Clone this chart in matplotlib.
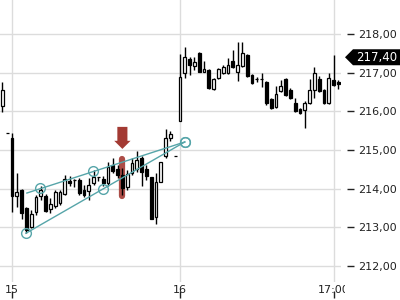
import matplotlib
matplotlib.use("Agg")
import matplotlib.pyplot as plt
import matplotlib.transforms as mtransforms
from matplotlib.patches import Polygon

# OHLC, one candle per index
opens = [216.14, 215.44, 215.31, 213.81, 213.97, 213.50, 213.01, 213.40, 213.81, 213.81,
         213.47, 213.55, 213.63, 213.86, 214.20, 214.22, 214.22, 213.97, 213.94, 214.15,
         214.30, 214.25, 214.15, 214.61, 214.51, 214.35, 214.04, 214.41, 214.51, 214.79,
         214.51, 214.30, 213.27, 214.17, 214.85, 215.31, 214.85, 215.75, 216.99, 217.35,
         217.17, 217.51, 217.02, 217.07, 216.58, 216.86, 216.99, 216.99, 217.30, 217.02,
         217.17, 217.46, 216.94, 216.84, 216.84, 216.76, 216.32, 216.11, 216.53, 216.84,
         216.55, 216.22, 216.06, 216.03, 216.22, 216.55, 216.84, 216.55, 216.22, 216.81,
         216.76]
highs = [216.76, 215.44, 215.44, 214.41, 214.00, 213.52, 213.45, 213.84, 214.07, 213.86,
         213.76, 213.97, 213.97, 214.35, 214.33, 214.24, 214.28, 214.10, 214.28, 214.48,
         214.31, 214.33, 214.69, 214.79, 214.61, 214.53, 214.48, 214.79, 214.97, 214.85,
         214.61, 214.30, 214.41, 214.69, 215.54, 215.49, 214.85, 217.48, 217.66, 217.41,
         217.41, 217.53, 217.30, 217.09, 216.86, 217.12, 217.20, 217.38, 217.59, 217.79,
         217.79, 217.48, 216.96, 216.89, 216.99, 216.78, 216.34, 216.66, 216.81, 216.86,
         216.60, 216.34, 216.08, 216.27, 216.84, 217.15, 216.91, 216.58, 216.99, 217.46,
         216.81]
lows = [215.98, 215.44, 213.40, 213.53, 213.22, 212.85, 212.98, 213.32, 213.71, 213.40,
        213.37, 213.50, 213.58, 213.84, 214.07, 214.04, 213.84, 213.79, 213.71, 214.10,
        214.20, 214.07, 214.07, 214.41, 214.28, 213.84, 213.97, 214.35, 214.43, 214.07,
        214.22, 213.22, 213.09, 214.17, 214.79, 215.23, 214.85, 215.75, 216.86, 216.94,
        217.07, 217.02, 217.02, 216.58, 216.55, 216.84, 216.97, 216.97, 217.12, 216.78,
        217.15, 216.89, 216.71, 216.76, 216.63, 216.16, 216.06, 216.09, 216.50, 216.40,
        216.32, 215.98, 215.93, 215.57, 216.19, 216.34, 216.50, 216.19, 216.19, 216.66,
        216.58]
closes = [216.55, 215.44, 213.81, 213.91, 213.37, 212.93, 213.35, 213.78, 213.97, 213.42,
          213.60, 213.91, 213.91, 214.25, 214.15, 214.22, 213.89, 213.84, 214.10, 214.30,
          214.30, 214.15, 214.56, 214.46, 214.35, 214.02, 214.38, 214.66, 214.74, 214.43,
          214.33, 213.22, 214.17, 214.69, 215.31, 215.41, 214.85, 216.89, 217.41, 217.20,
          217.28, 217.02, 217.09, 216.60, 216.84, 217.09, 217.15, 217.20, 217.15, 217.20,
          217.51, 216.91, 216.73, 216.84, 216.83, 216.22, 216.09, 216.45, 216.66, 216.42,
          216.34, 216.01, 215.96, 216.22, 216.55, 216.99, 216.53, 216.22, 216.86, 216.68,
          216.71]

x_tick_pos = [2, 37, 69]
x_tick_labels = ["15", "16", "17:00"]
y_ticks = [212, 213, 214, 215, 216, 217, 218]
y_tick_labels = ["212,00", "213,00", "214,00", "215,00", "216,00", "217,00", "218,00"]
last_price = 217.40
last_label = "217,40"

# trend channel (candle index, price)
upper_x = [5.1, 38.0]
upper_y = [213.89, 215.21]
upper_pts_x = [7.8, 18.9, 38.0]
upper_pts_y = [214.02, 214.46, 215.21]
lower_x = [4.9, 38.0]
lower_y = [212.85, 215.21]
lower_pts_x = [4.9, 21.0, 38.0]
lower_pts_y = [212.85, 213.99, 215.21]

signal_idx = 25
signal_top, signal_tip = 215.60, 215.03

teal = "#56a5a9"
red = "#a33a33"
grid = "#dcdcdc"
txt = "#222222"

fig = plt.figure(figsize=(4, 3), dpi=100)
ax = fig.add_axes([0, 18 / 300, 341 / 400, 282 / 300])
ax.set_xlim(-0.5, 70.55)
ax.set_ylim(211.59, 218.88)

idx = list(range(len(opens)))
bottoms = [min(o, c) for o, c in zip(opens, closes)]
heights = [abs(c - o) for o, c in zip(opens, closes)]
faces = ["white" if c >= o else "black" for o, c in zip(opens, closes)]

# highlighted candle behind
ax.vlines(signal_idx, lows[signal_idx] - 0.02, highs[signal_idx] + 0.25, color=red,
          linewidth=4.5, alpha=0.9, capstyle="round", zorder=2)
ax.vlines(idx, lows, highs, color="black", linewidth=1.0, zorder=3)
ax.bar(idx, heights, bottom=bottoms, width=0.6, color=faces, edgecolor="black",
       linewidth=0.9, zorder=4)

ax.plot(upper_x, upper_y, color=teal, linewidth=1.0, zorder=5)
ax.plot(lower_x, lower_y, color=teal, linewidth=1.0, zorder=5)
ax.plot(upper_pts_x + lower_pts_x, upper_pts_y + lower_pts_y, linestyle="none",
        marker="o", markersize=7, markerfacecolor="none", markeredgecolor=teal,
        markeredgewidth=1.0, zorder=6)

ax.arrow(signal_idx, signal_top, 0, signal_tip - signal_top, width=2.1, head_width=3.4,
         head_length=0.21, length_includes_head=True, color=red, linewidth=0, zorder=6)

ax.set_xticks(x_tick_pos)
ax.set_xticklabels(x_tick_labels)
ax.set_yticks(y_ticks)
ax.set_yticklabels(y_tick_labels)
ax.yaxis.tick_right()
ax.grid(True, color=grid, linewidth=1.0)
ax.set_axisbelow(True)
for s in ax.spines.values():
    s.set_visible(False)
ax.spines["right"].set_position(("outward", 4))
ax.tick_params(axis="y", length=5, width=1, color=txt, labelsize=8, labelcolor=txt, pad=3)
ax.tick_params(axis="x", length=0, labelsize=8, labelcolor=txt, pad=2)

clip = mtransforms.TransformedBbox(mtransforms.Bbox.from_extents(0, 0, 345 / 400, 1),
                                   fig.transFigure)
for lbl in ax.get_xticklabels():
    lbl.set_clip_box(clip)
    lbl.set_clip_on(True)

sec = ax.secondary_xaxis(-0.057)
sec.set_xticks(x_tick_pos)
sec.set_xticklabels([])
sec.tick_params(axis="x", direction="in", length=5, width=1, color=txt)
sec.spines["bottom"].set_visible(False)

# last price tag
tr = mtransforms.blended_transform_factory(fig.transFigure, ax.transData)
h = 8 / 38.67
tag = Polygon([(345 / 400, last_price), (353 / 400, last_price + h), (1.0, last_price + h),
               (1.0, last_price - h), (353 / 400, last_price - h)], closed=True,
              transform=tr, facecolor="black", edgecolor="none", clip_on=False)
fig.patches.append(tag)
fig.text(377 / 400, last_price, last_label, transform=tr, color="white", fontsize=8.5,
         ha="center", va="center")

fig.savefig("out.png", dpi=100, facecolor="white")
